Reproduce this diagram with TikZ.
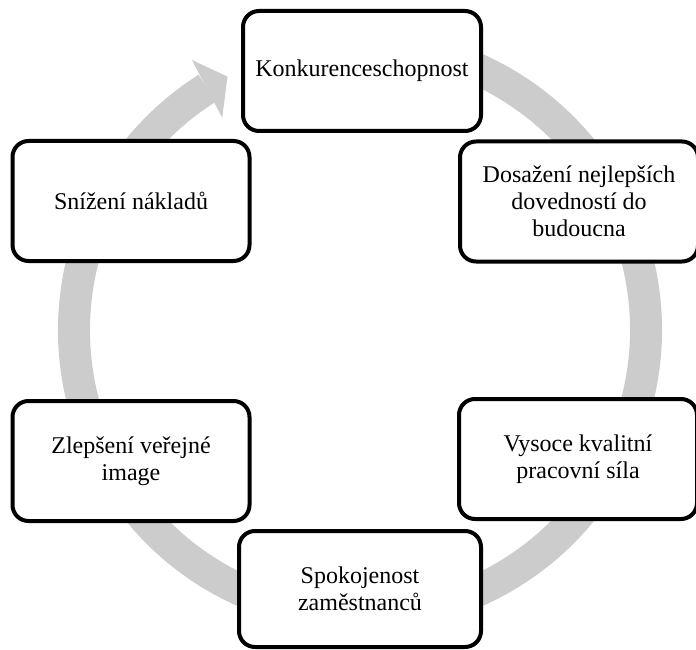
\documentclass[tikz,border=0pt]{standalone}
\usepackage{fontspec}
\setmainfont{Liberation Serif}
\usetikzlibrary{calc}
\begin{document}
\begin{tikzpicture}[x=1pt,y=1pt,
  cyclebox/.style={draw=black, line width=4pt, rounded corners=16pt, fill=white,
    minimum height=120pt, inner sep=2pt, align=center,
    font=\fontsize{24}{27}\selectfont},
  ring/.style={line width=32pt, draw=black!20},
  ringhead/.style={fill=black!20}]
\useasboundingbox (0,0) rectangle (696,-650);

% circular arrow behind the boxes, running clockwise
\coordinate (c) at (360,-330);
\draw[ring] (c) ++(122.3:286) arc[start angle=122.3, end angle=455, radius=286];
\fill[ringhead] ($(c)+(117.6:286)$) -- ($(c)+(121.9:318)$) -- ($(c)+(123:253)$) -- cycle;

% stages of the cycle
\node[cyclebox, minimum width=238pt] (k)  at (362,-71)    {Konkurenceschopnost};
\node[cyclebox, minimum width=238pt] (d)  at (579,-201.5) {Dosažení nejlepších\\dovedností do\\budoucna};
\node[cyclebox, minimum width=238pt] (v)  at (578,-459)   {Vysoce kvalitní\\pracovní síla};
\node[cyclebox, minimum width=242pt, minimum height=116pt] (sp) at (360,-589) {Spokojenost\\zaměstnanců};
\node[cyclebox, minimum width=237pt] (z)  at (131,-461)   {Zlepšení veřejné\\image};
\node[cyclebox, minimum width=237pt] (s)  at (131,-201)   {Snížení nákladů};
\end{tikzpicture}
\end{document}
